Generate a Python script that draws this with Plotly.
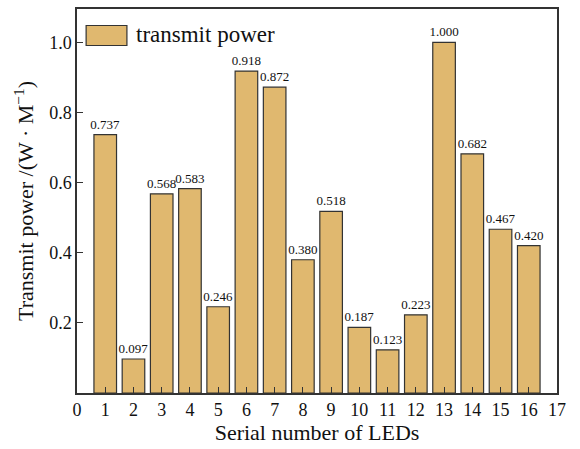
import plotly.graph_objects as go

led_ids = list(range(1, 17))
transmit_power = [0.737, 0.097, 0.568, 0.583, 0.246, 0.918, 0.872, 0.380,
                  0.518, 0.187, 0.123, 0.223, 1.000, 0.682, 0.467, 0.420]
bar_labels = [f"{v:.3f}" for v in transmit_power]
x_ticks = list(range(0, 18))
y_ticks = [0.2, 0.4, 0.6, 0.8, 1.0]
y_tick_labels = ["0.2", "0.4", "0.6", "0.8", "1.0"]

FONT = "Liberation Serif"
BAR_COLOR = "#E0B86F"
EDGE = "#333333"
TXT = "#111111"

fig = go.Figure()
fig.add_trace(go.Bar(
    x=led_ids, y=transmit_power, width=0.8,
    marker=dict(color=BAR_COLOR, line=dict(color=EDGE, width=1.2)),
    text=bar_labels, textposition="outside", cliponaxis=False,
    constraintext="none",
    textfont=dict(family=FONT, size=13, color=TXT),
    name="transmit power", showlegend=False,
))

fig.update_layout(
    width=580, height=449,
    margin=dict(l=77, r=23, t=7, b=56),
    paper_bgcolor="white", plot_bgcolor="white",
    font=dict(family=FONT, size=20, color=TXT),
)
fig.update_xaxes(
    range=[0, 17], tickvals=x_ticks, ticktext=[str(t) for t in x_ticks],
    ticks="inside", ticklen=6, tickwidth=1.2, tickcolor=EDGE,
    showline=True, linecolor=EDGE, linewidth=1.5, mirror=True,
    showgrid=False, zeroline=False,
    tickfont=dict(family=FONT, size=18, color=TXT),
    title=dict(text="Serial number of LEDs", font=dict(family=FONT, size=22, color=TXT), standoff=0),
)
fig.update_yaxes(
    range=[0, 1.095], tickvals=y_ticks, ticktext=y_tick_labels,
    ticks="inside", ticklen=6, tickwidth=1.2, tickcolor=EDGE,
    showline=True, linecolor=EDGE, linewidth=1.5, mirror=True,
    showgrid=False, zeroline=False,
    tickfont=dict(family=FONT, size=18, color=TXT),
    title=dict(text="Transmit power /(W · M<sup>−1</sup>)", font=dict(family=FONT, size=22, color=TXT), standoff=9),
)

# legend drawn manually to mimic the large swatch
fig.add_shape(type="rect", xref="paper", yref="paper",
              x0=0.019, x1=0.104, y0=0.957, y1=0.905,
              fillcolor=BAR_COLOR, line=dict(color=EDGE, width=1.2))
fig.add_annotation(xref="paper", yref="paper", x=0.118, y=0.933,
                   text="transmit power", showarrow=False,
                   xanchor="left", yanchor="middle",
                   font=dict(family=FONT, size=23, color=TXT))

fig.write_html("out.html")
